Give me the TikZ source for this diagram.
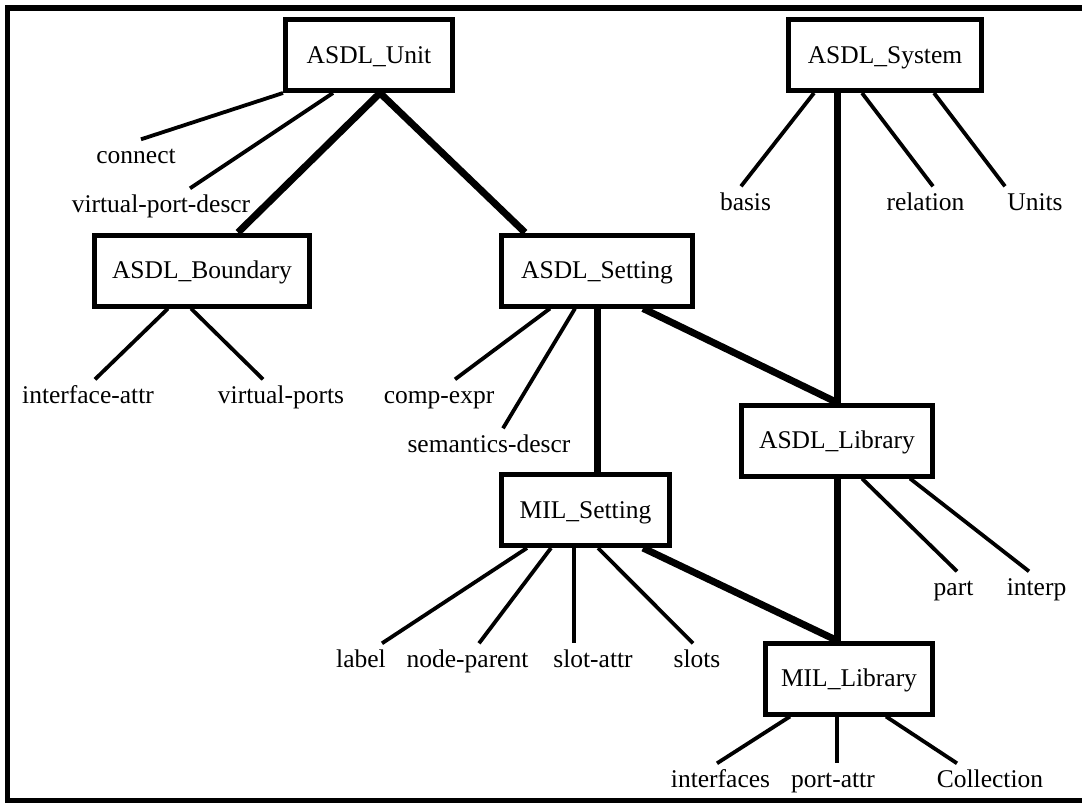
\documentclass[tikz,border=0pt]{standalone}
\usepackage{fontspec}
\setmainfont{Liberation Serif}
\newcommand\labfont{\fontsize{25.5pt}{30pt}\selectfont}
\pgfdeclarelayer{bg}
\pgfsetlayers{bg,main}
\begin{document}
\begin{tikzpicture}[x=1pt,y=-1pt,
  box/.style={draw, line width=5pt, fill=white, inner sep=0pt, minimum height=71pt,
              text height=18pt, text depth=2pt, font=\labfont},
  lab/.style={inner sep=0pt, text height=23.5pt, text depth=6pt, anchor=base, font=\labfont},
  thinln/.style={line width=3.8pt},
  thickln/.style={line width=7pt},
  framestyle/.style={line width=5.5pt, line join=miter}]
\useasboundingbox (0,0) rectangle (1082,804);
\draw[framestyle] (1100,8) -- (7.5,8) -- (7.5,800.5) -- (1100,800.5);

% boxes
\node[box, minimum width=167pt]   (unit)     at (369,55)    {ASDL\_Unit};
\node[box, minimum width=193.5pt] (system)   at (885,55)    {ASDL\_System};
\node[box, minimum width=215pt]   (boundary) at (202,270.5) {ASDL\_Boundary};
\node[box, minimum width=191pt]   (setting)  at (597,270.5) {ASDL\_Setting};
\node[box, minimum width=190.5pt] (library)  at (837,440.5) {ASDL\_Library};
\node[box, minimum width=168pt]   (milset)   at (585.5,510) {MIL\_Setting};
\node[box, minimum width=166.5pt] (millib)   at (849,678.5) {MIL\_Library};

% labels
\node[lab] (connect)   at (136,163)   {connect};
\node[lab] (vpd)       at (161,212)   {virtual-port-descr};
\node[lab] (basis)     at (745.5,210) {basis};
\node[lab] (relation)  at (925.5,210) {relation};
\node[lab] (units)     at (1035,210)  {Units};
\node[lab] (ifattr)    at (88,403)    {interface-attr};
\node[lab] (vports)    at (281,403)   {virtual-ports};
\node[lab] (compexpr)  at (439,403)   {comp-expr};
\node[lab] (semdescr)  at (489,452)   {semantics-descr};
\node[lab] (part)      at (953.5,595) {part};
\node[lab] (interp)    at (1036.5,595){interp};
\node[lab] (labelt)    at (361,667)   {label};
\node[lab] (nodepar)   at (467.5,667) {node-parent};
\node[lab] (slotattr)  at (593,667)   {slot-attr};
\node[lab] (slots)     at (697,667)   {slots};
\node[lab] (ifaces)    at (720.5,787) {interfaces};
\node[lab] (portattr)  at (833,787)   {port-attr};
\node[lab] (collect)   at (990,787)   {Collection};

\begin{pgfonlayer}{bg}
% ASDL_Unit
\draw[thinln] (unit.south west) -- ([xshift=5pt]connect.north);
\draw[thinln] ([xshift=-36pt]unit.south) -- ([xshift=29pt]vpd.north);
\draw[thickln] ([xshift=11pt]unit.south) -- ([xshift=36pt]boundary.north);
\draw[thickln] ([xshift=11pt]unit.south) -- ([xshift=-72pt]setting.north);
% ASDL_Boundary
\draw[thinln] ([xshift=-34pt]boundary.south) -- ([xshift=7pt]ifattr.north);
\draw[thinln] ([xshift=-11pt]boundary.south) -- ([xshift=-18pt]vports.north);
% ASDL_Setting
\draw[thinln] ([xshift=-47pt]setting.south) -- ([xshift=16pt]compexpr.north);
\draw[thinln] ([xshift=-22pt]setting.south) -- ([xshift=14pt]semdescr.north);
\draw[thickln] (setting.south) -- (setting.south |- milset.north);
\draw[thickln] ([xshift=46pt]setting.south) -- (library.north);
% ASDL_System
\draw[thickln] (library.north |- system.south) -- (library.north);
\draw[thinln] ([xshift=-71pt]system.south) -- ([xshift=-4.5pt]basis.north);
\draw[thinln] ([xshift=-23pt]system.south) -- ([xshift=7.5pt]relation.north);
\draw[thinln] ([xshift=49pt]system.south) -- ([xshift=-30pt]units.north);
% ASDL_Library
\draw[thinln] ([xshift=25pt]library.south) -- ([xshift=3.5pt]part.north);
\draw[thinln] ([xshift=73pt]library.south) -- ([xshift=-7.5pt]interp.north);
\draw[thickln] (library.south) -- (library.south |- millib.north);
% MIL_Setting
\draw[thinln] ([xshift=-58.5pt]milset.south) -- ([xshift=21pt]labelt.north);
\draw[thinln] ([xshift=-34.5pt]milset.south) -- ([xshift=11.5pt]nodepar.north);
\draw[thinln] ([xshift=-11.5pt]milset.south) -- ([xshift=-19pt]slotattr.north);
\draw[thinln] ([xshift=12.5pt]milset.south) -- ([xshift=-4pt]slots.north);
\draw[thickln] ([xshift=57.5pt]milset.south) -- (library.south |- millib.north);
% MIL_Library
\draw[thinln] ([xshift=-59pt]millib.south) -- ([xshift=-3.5pt]ifaces.north);
\draw[thinln] ([xshift=-12pt]millib.south) -- ([xshift=4pt]portattr.north);
\draw[thinln] ([xshift=37pt]millib.south) -- ([xshift=-33pt]collect.north);
\end{pgfonlayer}
\end{tikzpicture}
\end{document}
